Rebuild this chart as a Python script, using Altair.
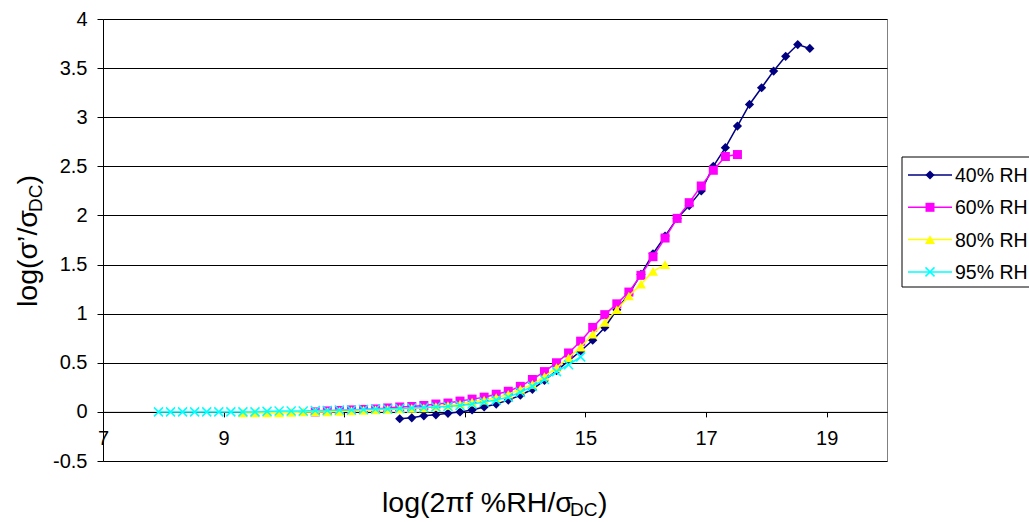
import altair as alt
import pandas as pd

# ---------------- data ----------------
series_names = ["40% RH", "60% RH", "80% RH", "95% RH"]

x40 = [11.92, 12.12, 12.32, 12.52, 12.72, 12.92, 13.12, 13.32, 13.52, 13.72,
       13.92, 14.12, 14.32, 14.52, 14.72, 14.92, 15.12, 15.32, 15.52, 15.72,
       15.92, 16.12, 16.32, 16.52, 16.72, 16.92, 17.12, 17.32, 17.52, 17.72,
       17.92, 18.12, 18.32, 18.52, 18.72]
y40 = [-0.07, -0.06, -0.04, -0.03, -0.015, 0.0, 0.02, 0.05, 0.08, 0.12,
       0.17, 0.23, 0.32, 0.42, 0.52, 0.62, 0.73, 0.86, 1.04, 1.20,
       1.40, 1.61, 1.79, 1.97, 2.10, 2.25, 2.50, 2.69, 2.91, 3.13,
       3.30, 3.47, 3.62, 3.74, 3.70]

x60 = [10.52, 10.72, 10.92, 11.12, 11.32, 11.52, 11.72, 11.92, 12.12, 12.32,
       12.52, 12.72, 12.92, 13.12, 13.32, 13.52, 13.72, 13.92, 14.12, 14.32,
       14.52, 14.72, 14.92, 15.12, 15.32, 15.52, 15.72, 15.92, 16.12, 16.32,
       16.52, 16.72, 16.92, 17.12, 17.32, 17.52]
y60 = [0.0, 0.01, 0.015, 0.02, 0.025, 0.03, 0.04, 0.05, 0.055, 0.065,
       0.08, 0.09, 0.11, 0.13, 0.15, 0.18, 0.21, 0.26, 0.33, 0.41,
       0.50, 0.60, 0.72, 0.86, 0.99, 1.10, 1.22, 1.39, 1.58, 1.77,
       1.97, 2.13, 2.30, 2.46, 2.60, 2.62]

x80 = [9.32, 9.52, 9.72, 9.92, 10.12, 10.32, 10.52, 10.72, 10.92, 11.12,
       11.32, 11.52, 11.72, 11.92, 12.12, 12.32, 12.52, 12.72, 12.92, 13.12,
       13.32, 13.52, 13.72, 13.92, 14.12, 14.32, 14.52, 14.72, 14.92, 15.12,
       15.32, 15.52, 15.72, 15.92, 16.12, 16.32]
y80 = [-0.01, -0.01, -0.01, -0.01, -0.005, 0.0, 0.0, 0.0, 0.005, 0.01,
       0.015, 0.02, 0.025, 0.03, 0.035, 0.04, 0.055, 0.065, 0.08, 0.10,
       0.12, 0.145, 0.18, 0.23, 0.28, 0.36, 0.45, 0.55, 0.66, 0.79,
       0.91, 1.04, 1.18, 1.30, 1.43, 1.50]

x95 = [7.92, 8.12, 8.32, 8.52, 8.72, 8.92, 9.12, 9.32, 9.52, 9.72,
       9.92, 10.12, 10.32, 10.52, 10.72, 10.92, 11.12, 11.32, 11.52, 11.72,
       11.92, 12.12, 12.32, 12.52, 12.72, 12.92, 13.12, 13.32, 13.52, 13.72,
       13.92, 14.12, 14.32, 14.52, 14.72, 14.92]
y95 = [0.0, 0.0, 0.0, 0.0, 0.0, 0.0, 0.0, 0.0, 0.0, 0.005,
       0.01, 0.01, 0.01, 0.015, 0.015, 0.02, 0.02, 0.025, 0.03, 0.03,
       0.035, 0.04, 0.045, 0.05, 0.055, 0.065, 0.08, 0.10, 0.12, 0.15,
       0.20, 0.26, 0.33, 0.41, 0.48, 0.56]

x_ticks = [7, 9, 11, 13, 15, 17, 19]
y_ticks = [-0.5, 0, 0.5, 1, 1.5, 2, 2.5, 3, 3.5, 4]

# ---------------- styling ----------------
FONT = "Liberation Sans"
W, H = 784, 442
colors = ["#000080", "#FF00FF", "#FFFF00", "#00FFFF"]
shapes = ["diamond", "square", "triangle-up", "M-1,-1L1,1M-1,1L1,-1"]
sizes = [85, 81, 100, 81]
filled = [True, True, True, False]

xscale = alt.Scale(domain=[7, 20], nice=False, zero=False)
yscale = alt.Scale(domain=[-0.5, 4], nice=False, zero=False)

xaxis = alt.Axis(values=x_ticks, grid=False, offset=-H * 0.5 / 4.5,
                 domainColor="black", domainWidth=1, tickColor="black",
                 tickSize=5, labelFontSize=20, labelFont=FONT,
                 labelColor="black", labelFlush=False, labelPadding=12,
                 labelExpr="'' + datum.value", title=None)
yaxis = alt.Axis(values=y_ticks, grid=True, gridColor="black", gridWidth=1,
                 domainColor="black", domainWidth=1, tickColor="black",
                 tickSize=6, labelFontSize=20, labelFont=FONT,
                 labelColor="black", labelPadding=10,
                 labelExpr="'' + datum.value", title=None)

all_x = [x40, x60, x80, x95]
all_y = [y40, y60, y80, y95]

layers = []
for i, name in enumerate(series_names):
    df = pd.DataFrame({"x": all_x[i], "y": all_y[i], "series": name})
    enc = dict(x=alt.X("x:Q", scale=xscale, axis=xaxis),
               y=alt.Y("y:Q", scale=yscale, axis=yaxis))
    line = alt.Chart(df).mark_line(color=colors[i], strokeWidth=1.5).encode(**enc)
    pts = alt.Chart(df).mark_point(shape=shapes[i], filled=filled[i],
                                   color=colors[i], size=sizes[i], opacity=1,
                                   strokeWidth=1.5).encode(**enc)
    layers += [line, pts]

one = pd.DataFrame({"k": [0]})

# ---------------- legend (manual, line + marker) ----------------
leg_box = alt.Chart(one).mark_rect(fill="white", stroke="black", strokeWidth=1).encode(
    x=alt.value(799), x2=alt.value(960), y=alt.value(138), y2=alt.value(268))
layers.append(leg_box)
for i, name in enumerate(series_names):
    ly = 156 + i * 32.3
    layers.append(alt.Chart(one).mark_rule(color=colors[i], strokeWidth=1.5).encode(
        x=alt.value(805), x2=alt.value(849), y=alt.value(ly)))
    layers.append(alt.Chart(one).mark_point(shape=shapes[i], filled=filled[i],
                                            color=colors[i], size=sizes[i],
                                            opacity=1, strokeWidth=1.5).encode(
        x=alt.value(827), y=alt.value(ly)))
    layers.append(alt.Chart(one).mark_text(text=name, font=FONT, fontSize=19.5,
                                           align="left", baseline="middle",
                                           color="black").encode(
        x=alt.value(852), y=alt.value(ly + 1)))

# ---------------- axis titles with subscripts ----------------
def txt(t, x, y, size, angle=0):
    return alt.Chart(one).mark_text(text=t, font=FONT, fontSize=size,
                                    align="left", baseline="alphabetic",
                                    angle=angle, color="black").encode(
        x=alt.value(x), y=alt.value(y))

# x title: log(2πf %RH/σDC)
layers.append(txt("log(2πf %RH/σ", 279, 493, 28.5))
layers.append(txt("DC", 467, 497, 19))
layers.append(txt(")", 495, 493, 28.5))

# y title: log(σ'/σDC), rotated
layers.append(txt("log(σ’/σ", -66, 288, 28.5, 270))
layers.append(txt("DC", -61, 193, 19, 270))
layers.append(txt(")", -66, 165.5, 28.5, 270))

chart = alt.layer(*layers).properties(
    width=W, height=H,
    autosize=alt.AutoSizeParams(type="none"),
    padding={"left": 103, "top": 19, "right": 142, "bottom": 61},
    background="white",
).configure_view(stroke="#808080", strokeWidth=1)

chart.save("out.html", embed_options={"renderer": "svg", "actions": False})
